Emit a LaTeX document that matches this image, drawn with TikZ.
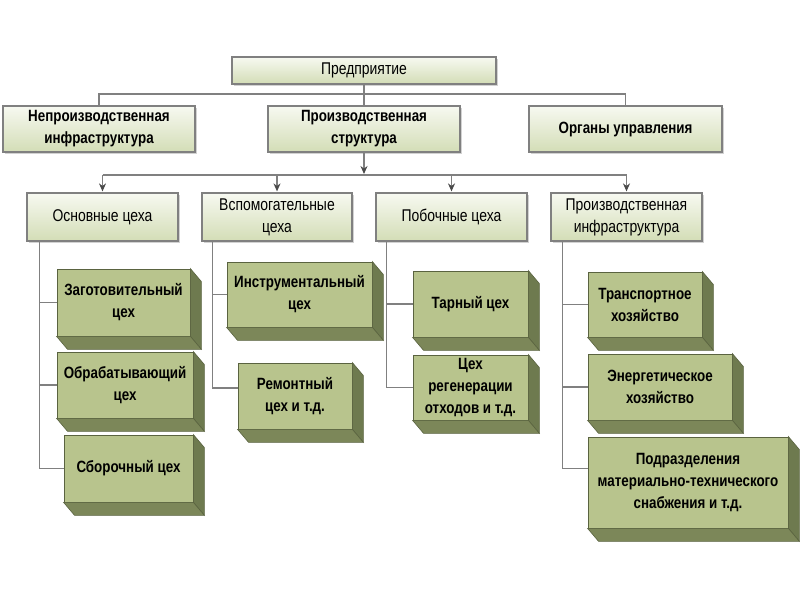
\documentclass[tikz,border=0pt]{standalone}
\usepackage{fontspec}
\setmainfont{Liberation Sans}[FakeStretch=0.82]
\usetikzlibrary{arrows.meta,shadows}
\definecolor{boxtop}{HTML}{F7F9F1}
\definecolor{boxbot}{HTML}{D3DDB6}
\definecolor{frontc}{HTML}{B8C48D}
\definecolor{sidec}{HTML}{6E7A4F}
\definecolor{bottomc}{HTML}{7C8759}
\definecolor{edgec}{HTML}{5A6340}
\definecolor{linec}{HTML}{808080}
\definecolor{tipc}{HTML}{4A4A4A}
\begin{document}
\begin{tikzpicture}[x=1pt, y=-1pt,
    flat/.style={draw=linec, line width=1.2pt, top color=boxtop, bottom color=boxbot,
        drop shadow={shadow xshift=2pt, shadow yshift=-2pt, opacity=0.35},
        align=center, inner sep=0pt, font=\fontsize{17}{22}\selectfont},
    strong/.style={font=\bfseries\fontsize{16.3}{22}\selectfont},
    block/.style={draw=edgec, line width=0.8pt, fill=frontc, align=center, inner sep=0pt,
        font=\bfseries\fontsize{16.3}{22}\selectfont},
    link/.style={draw=linec, line width=1.5pt},
    arrow/.style={link, -{Stealth[length=8pt,width=7pt,color=tipc]}, shorten >=1pt}
]
\useasboundingbox (0,0) rectangle (800,600);
\fill[white] (0,0) rectangle (800,600);

% top levels
\node[flat, minimum width=264pt, minimum height=27pt] (firm) at (364,70.5) {Предприятие};
\node[flat, strong, minimum width=192pt, minimum height=46pt] (nonprod) at (99,129) {Непроизводственная\\инфраструктура};
\node[flat, strong, minimum width=192pt, minimum height=46pt] (prodstr) at (364,129) {Производственная\\структура};
\node[flat, strong, minimum width=193pt, minimum height=46pt] (organs) at (625.5,129) {Органы управления};

\node[flat, minimum width=151pt, minimum height=48pt] (osn) at (102.5,217) {Основные цеха};
\node[flat, minimum width=150pt, minimum height=48pt] (vsp) at (277,217) {Вспомогательные\\цеха};
\node[flat, minimum width=151pt, minimum height=48pt] (pob) at (451.5,217) {Побочные цеха};
\node[flat, minimum width=151pt, minimum height=48pt] (infra) at (626.5,217) {Производственная\\инфраструктура};

% shops
\node[block, minimum width=133pt, minimum height=67pt] (zag) at (123.5,302.5) {Заготовительный\\цех};
\node[block, minimum width=136pt, minimum height=66pt] (obr) at (125,385) {Обрабатывающий\\цех};
\node[block, minimum width=129pt, minimum height=67pt] (sbor) at (128.5,468.5) {Сборочный цех};
\node[block, minimum width=145pt, minimum height=65pt] (instr) at (299.5,294.5) {Инструментальный\\цех};
\node[block, minimum width=114pt, minimum height=66pt] (rem) at (295,396) {Ремонтный\\цех и т.д.};
\node[block, minimum width=115pt, minimum height=66pt] (tar) at (470.5,304) {Тарный цех};
\node[block, minimum width=115pt, minimum height=65pt] (regen) at (470.5,387.5) {Цех\\регенерации\\отходов и т.д.};
\node[block, minimum width=114pt, minimum height=65pt] (trans) at (645,304.5) {Транспортное\\хозяйство};
\node[block, minimum width=144pt, minimum height=66pt] (energ) at (660,387) {Энергетическое\\хозяйство};
\node[block, minimum width=200pt, minimum height=91pt] (podr) at (688,482.5) {Подразделения\\материально-технического\\снабжения и т.д.};

% depth of the shop blocks
\foreach \n in {zag,obr,sbor,instr,rem,tar,regen,trans,energ,podr}{
  \filldraw[fill=sidec, draw=edgec, line width=0.6pt] (\n.north east) -- ++(11,13) -- ([shift={(11,13)}]\n.south east) -- (\n.south east) -- cycle;
  \filldraw[fill=bottomc, draw=edgec, line width=0.6pt] (\n.south west) -- (\n.south east) -- ([shift={(11,13)}]\n.south east) -- ([shift={(11,13)}]\n.south west) -- cycle;
}

% connectors
\coordinate (topbus) at (364,94);
\coordinate (bus) at (364,175);
\draw[link] (firm) -- (prodstr);
\draw[link] (nonprod.north) |- (topbus) -| (organs.north);
\draw[arrow] (prodstr) -- (bus);
\draw[link] (osn.north |- bus) -- (infra.north |- bus);
\foreach \n in {osn,vsp,pob,infra}
  \draw[arrow] (\n.north |- bus) -- (\n.north);

\coordinate (osnbar) at ([xshift=13pt]osn.south west);
\draw[link] (osnbar) |- (sbor.west);
\foreach \n in {zag,obr}
  \draw[link] (osnbar |- \n.west) -- (\n.west);

\coordinate (vspbar) at ([xshift=11pt]vsp.south west);
\draw[link] (vspbar) |- ([yshift=8pt]rem.west);
\draw[link] (vspbar |- instr.west) -- (instr.west);

\coordinate (pobbar) at ([xshift=11pt]pob.south west);
\draw[link] (pobbar) |- (regen.west);
\draw[link] (pobbar |- tar.west) -- (tar.west);

\coordinate (infrabar) at ([xshift=12pt]infra.south west);
\draw[link] (infrabar) |- ([yshift=14pt]podr.west);
\foreach \n in {trans,energ}
  \draw[link] (infrabar |- \n.west) -- (\n.west);
\end{tikzpicture}
\end{document}
